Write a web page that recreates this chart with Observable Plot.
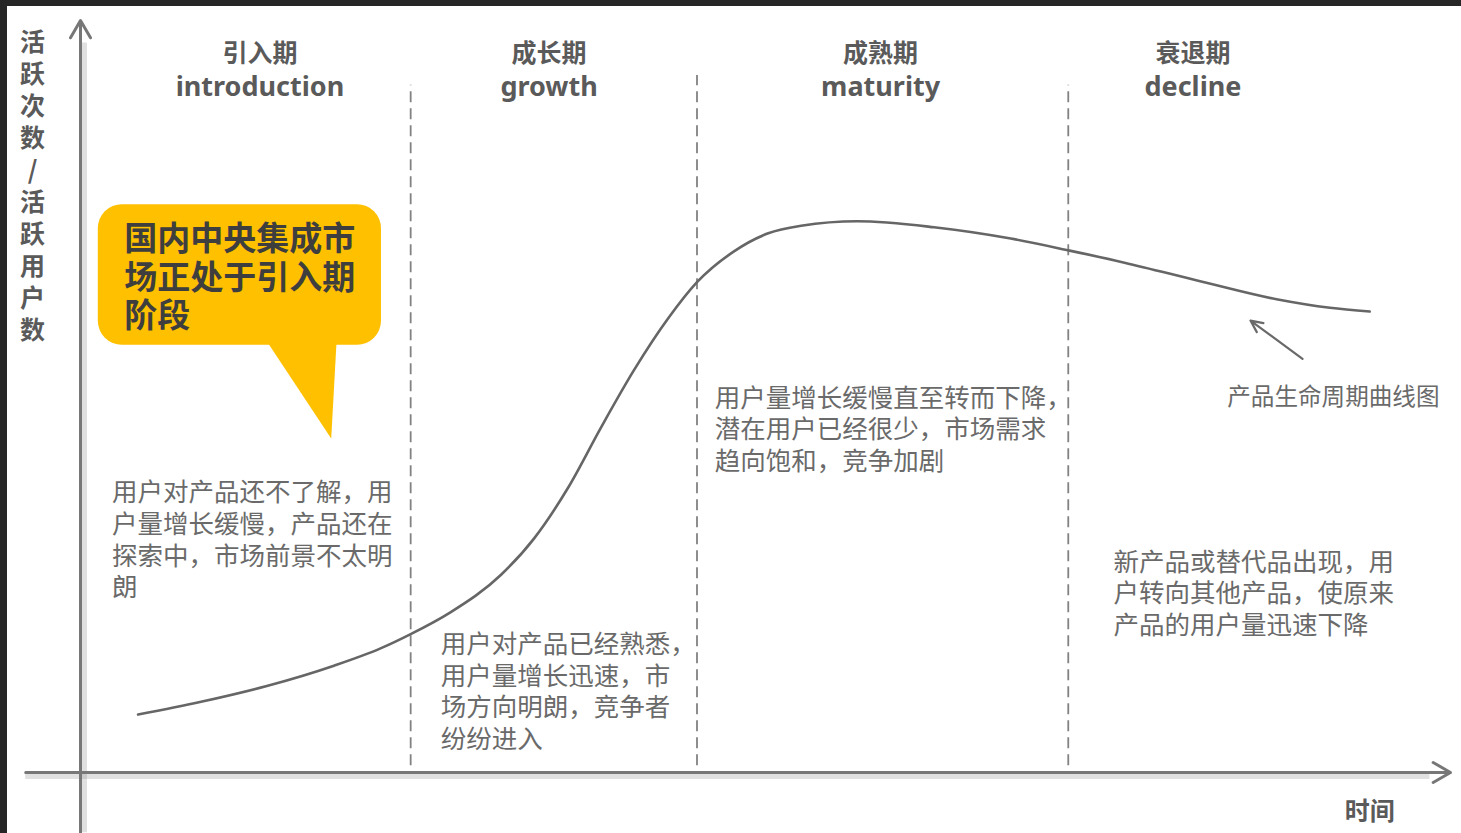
<!DOCTYPE html>
<html>
<head>
<meta charset="utf-8">
<script src="https://cdn.jsdelivr.net/npm/d3@7"></script>
<script src="https://cdn.jsdelivr.net/npm/@observablehq/plot@0.6"></script>
<style>
  html, body { margin: 0; padding: 0; background: #fff; overflow: hidden; }
  #wrap { position: relative; width: 1461px; height: 833px; }
  .edge { position: absolute; background: #262626; }
</style>
</head>
<body>
<div id="wrap">
  <div id="chart"></div>
  <div class="edge" style="left:0;top:0;width:1461px;height:6px;"></div>
  <div class="edge" style="left:0;top:0;width:7px;height:833px;"></div>
</div>
<script>
// ---- data (time units 0–100, activity units 0–100) ----
const curveT = [4.2, 8.8, 13.6, 18.5, 21.9, 24.1, 27.0, 30.7, 33.1, 35.6, 38.0, 40.4, 42.9, 45.0, 47.7, 50.2, 52.6, 56.7, 62.3, 67.9, 72.2, 76.2, 81.8, 87.4, 91.2, 94.1];
const curveV = [7.7, 9.4, 11.5, 14.2, 16.5, 18.4, 21.3, 26.3, 31.1, 37.9, 45.9, 53.5, 60.4, 65.2, 69.3, 71.7, 72.7, 73.3, 72.5, 71.0, 69.4, 67.8, 65.3, 62.9, 61.8, 61.3];

const phaseCN = ["引入期", "成长期", "成熟期", "衰退期"];
const phaseEN = ["introduction", "growth", "maturity", "decline"];
const phaseCenter = [13.1, 34.2, 58.4, 81.2];
const boundaries = [24.1, 45.0, 72.1];
const boundaryTop = [91.4, 92.7, 91.4];

const descriptions = [
  "用户对产品还不了解，用\n户量增长缓慢，产品还在\n探索中，市场前景不太明\n朗",
  "用户对产品已经熟悉，\n用户量增长迅速，市\n场方向明朗，竞争者\n纷纷进入",
  "用户量增长缓慢直至转而下降，\n潜在用户已经很少，市场需求\n趋向饱和，竞争加剧",
  "新产品或替代品出现，用\n户转向其他产品，使原来\n产品的用户量迅速下降"
];
const descX = [2.3, 26.3, 46.3, 75.4];
const descY = [31.1, 10.9, 45.8, 24.0];

const calloutText = "国内中央集成市\n场正处于引入期\n阶段";
const yLabel = "活跃次数/活跃用户数";
const xLabel = "时间";
const curveLabel = "产品生命周期曲线图";

// ---- tables ----
const curve = curveT.map((t, i) => ({t, v: curveV[i]}));
const phases = phaseCN.map((cn, i) => ({cn, en: phaseEN[i], c: phaseCenter[i]}));
const bounds = boundaries.map((b, i) => ({b, top: boundaryTop[i]}));
const descs = descriptions.map((d, i) => ({d, x: descX[i], y: descY[i]}));

const CJK = "'Noto Sans CJK SC', 'Noto Sans', sans-serif";
const gray = "#5a5a5a";

const chart = Plot.plot({
  width: 1461,
  height: 833,
  margin: 0,
  x: {type: "linear", domain: [0, 100], range: [80, 1450], axis: null},
  y: {type: "linear", domain: [0, 100], range: [772, 20], axis: null},
  style: {background: "transparent", fontFamily: CJK, overflow: "visible"},
  marks: [
    // axis shadows
    Plot.ruleY([0], {x1: -4, x2: 98.5, dy: 4, stroke: "#999", strokeWidth: 5, strokeOpacity: 0.3}),
    Plot.ruleX([0], {y1: -8, y2: 97, dx: 4, stroke: "#999", strokeWidth: 5, strokeOpacity: 0.3}),
    // axes
    Plot.arrow([{x1: 0, y1: -8, x2: 0, y2: 100}], {x1: "x1", y1: "y1", x2: "x2", y2: "y2", stroke: "#777", strokeWidth: 3, headLength: 10, headAngle: 60}),
    Plot.arrow([{x1: -4, y1: 0, x2: 100, y2: 0}], {x1: "x1", y1: "y1", x2: "x2", y2: "y2", stroke: "#777", strokeWidth: 3, headLength: 10, headAngle: 60}),
    // phase boundaries
    Plot.ruleX(bounds, {x: "b", y1: 0.9, y2: "top", stroke: "#828282", strokeWidth: 1.8, strokeDasharray: "11,6"}),
    // lifecycle curve
    Plot.line(curve, {x: "t", y: "v", curve: "monotone-x", stroke: "#666", strokeWidth: 2.6}),
    // annotation arrow
    Plot.arrow([{x1: 89.2, y1: 55.0, x2: 85.4, y2: 60.1}], {x1: "x1", y1: "y1", x2: "x2", y2: "y2", stroke: "#6a6a6a", strokeWidth: 2.2, headLength: 9, headAngle: 50}),
    // phase titles
    Plot.text(phases, {x: "c", y: 95.6, text: "cn", fontSize: 25, fontWeight: "bold", fill: gray}),
    Plot.text(phases, {x: "c", y: 91.1, text: "en", fontSize: 27, fontWeight: "bold", fill: gray, fontFamily: "'Noto Sans', sans-serif"}),
    // descriptions
    Plot.text(descs, {x: "x", y: "y", text: "d", textAnchor: "start", lineAnchor: "middle", lineHeight: 1.24, fontSize: 25.5, fill: "#6a6a6a"}),
    Plot.text([curveLabel], {x: 83.7, y: 49.9, text: d => d, textAnchor: "start", fontSize: 23.6, fill: "#6a6a6a"}),
    // callout bubble
    Plot.line([{x: 13.5, y: 57.6}, {x: 18.7, y: 57.6}, {x: 18.3, y: 44.4}], {x: "x", y: "y", fill: "#FFC000", stroke: "none"}),
    Plot.rect([{x1: 1.3, x2: 21.97, y1: 56.8, y2: 75.5}], {x1: "x1", x2: "x2", y1: "y1", y2: "y2", fill: "#FFC000", rx: 24}),
    Plot.text([calloutText], {x: 3.2, y: 66.0, text: d => d, textAnchor: "start", lineAnchor: "middle", lineHeight: 1.17, fontSize: 33, fontWeight: "bold", fill: "#3e3e3e"}),
    // axis labels
    Plot.text([yLabel.split("").join("\n")], {x: -3.5, y: 78.1, text: d => d, lineAnchor: "middle", lineHeight: 1.28, fontSize: 25, fontWeight: "bold", fill: gray}),
    Plot.text([xLabel], {x: 94.1, y: -5.3, text: d => d, fontSize: 25, fontWeight: "bold", fill: gray})
  ]
});
document.getElementById("chart").appendChild(chart);
</script>
</body>
</html>
